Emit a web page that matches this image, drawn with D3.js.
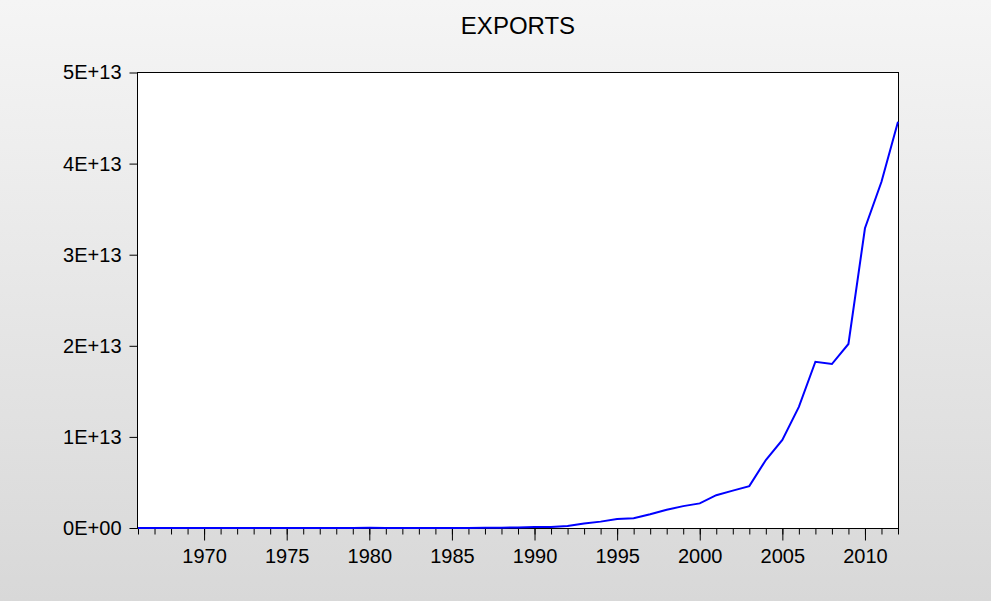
<!DOCTYPE html>
<html lang="en">
<head>
    <meta charset="UTF-8">
    <title>EXPORTS</title>
    <style>
        body { margin: 0; }
        svg { display: block; }
    </style>
</head>
<body>
<script src="https://d3js.org/d3.v7.min.js"></script>
<script>
    // Data (exports, in units of 1E+12)
    const years = d3.range(1966, 2013);
    const exportsTrn = [
        0.0006, 0.0006, 0.0005, 0.0008, 0.0009, 0.0013, 0.0014, 0.0023, 0.0058, 0.0049,
        0.0063, 0.0074, 0.0064, 0.0106, 0.0142, 0.0112, 0.0083, 0.0076, 0.0092, 0.0118,
        0.0089, 0.0302, 0.0319, 0.0582, 0.1094, 0.1215, 0.22, 0.50, 0.70, 1.00,
        1.06, 1.50, 2.00, 2.40, 2.70, 3.60, 4.10, 4.60, 7.46, 9.66,
        13.3, 18.25, 18.0, 20.2, 32.9, 38.0, 44.6
    ];
    const yTicks = [0, 1e13, 2e13, 3e13, 4e13, 5e13];
    const majorYears = [1970, 1975, 1980, 1985, 1990, 1995, 2000, 2005, 2010];
    const title = "EXPORTS";

    // Dimensions
    const width = 991;
    const height = 601;
    const plotLeft = 137.5, plotRight = 898.5, plotTop = 72.5, plotBottom = 528.5;
    const font = "'Liberation Sans', Arial, sans-serif";

    const svg = d3.select("body")
        .append("svg")
        .attr("width", width)
        .attr("height", height);

    // background gradient
    const grad = svg.append("defs")
        .append("linearGradient")
        .attr("id", "bg")
        .attr("x1", 0).attr("y1", 0)
        .attr("x2", 0).attr("y2", 1);
    grad.append("stop").attr("offset", "0%").attr("stop-color", "#f5f5f5");
    grad.append("stop").attr("offset", "100%").attr("stop-color", "#d8d8d8");
    svg.append("rect")
        .attr("width", width)
        .attr("height", height)
        .attr("fill", "url(#bg)");

    // plot area
    svg.append("rect")
        .attr("x", plotLeft)
        .attr("y", plotTop)
        .attr("width", plotRight - plotLeft)
        .attr("height", plotBottom - plotTop)
        .attr("fill", "white")
        .attr("stroke", "black")
        .attr("stroke-width", 1);

    // scales
    const x = d3.scaleLinear()
        .domain([1966, 2012])
        .range([plotLeft + 0.5, plotRight - 0.5]);
    const y = d3.scaleLinear()
        .domain([0, 5e13])
        .range([plotBottom - 0.5, plotTop]);

    // y axis
    const yAxis = svg.append("g")
        .attr("transform", `translate(${plotLeft},0)`)
        .call(d3.axisLeft(y)
            .tickValues(yTicks)
            .tickSize(8)
            .tickPadding(8)
            .tickFormat(d => d === 0 ? "0E+00" : (d / 1e13) + "E+13"));
    yAxis.select(".domain").remove();

    // x axis - minor ticks every year
    const xMinor = svg.append("g")
        .attr("transform", `translate(0,${plotBottom})`)
        .call(d3.axisBottom(x)
            .tickValues(years)
            .tickSize(6)
            .tickFormat(""));
    xMinor.select(".domain").remove();

    // x axis - major ticks with labels
    const xMajor = svg.append("g")
        .attr("transform", `translate(0,${plotBottom})`)
        .call(d3.axisBottom(x)
            .tickValues(majorYears)
            .tickSize(12)
            .tickPadding(8)
            .tickFormat(d3.format("d")));
    xMajor.select(".domain").remove();

    svg.selectAll(".tick text")
        .attr("fill", "black")
        .style("font-family", font)
        .style("font-size", "20px");
    svg.selectAll(".tick line")
        .attr("stroke", "black");

    // the line
    const data = years.map((yr, i) => ({x: yr, y: exportsTrn[i] * 1e12}));
    svg.append("path")
        .datum(data)
        .attr("fill", "none")
        .attr("stroke", "#0000ff")
        .attr("stroke-width", 2)
        .attr("d", d3.line()
            .x(d => x(d.x))
            .y(d => y(d.y)));

    // title
    svg.append("text")
        .attr("x", (plotLeft + plotRight) / 2)
        .attr("y", 34)
        .attr("text-anchor", "middle")
        .style("font-family", font)
        .style("font-size", "24px")
        .text(title);
</script>
</body>
</html>
